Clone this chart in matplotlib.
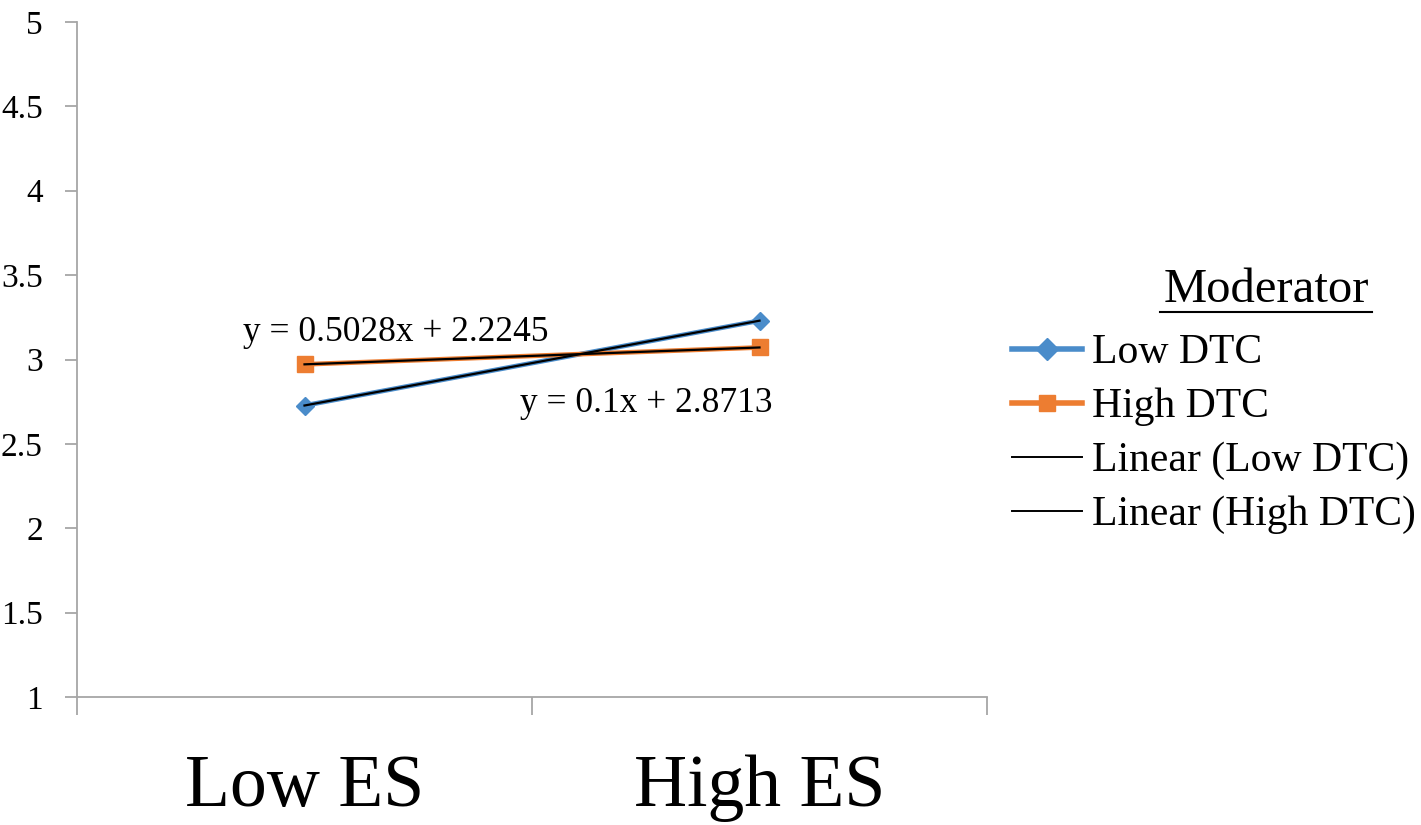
import numpy as np
import matplotlib
matplotlib.use('Agg')
from matplotlib import pyplot as plt
from matplotlib.lines import Line2D

plt.rcParams['font.family'] = ['Liberation Serif', 'DejaVu Serif']

# data
categories = ['Low ES', 'High ES']
series_names = ['Low DTC', 'High DTC']
low_dtc = [2.7273, 3.2301]
high_dtc = [2.9713, 3.0713]
trend_names = ['Linear (Low DTC)', 'Linear (High DTC)']
equations = ['y = 0.5028x + 2.2245', 'y = 0.1x + 2.8713']
y_ticks = [1, 1.5, 2, 2.5, 3, 3.5, 4, 4.5, 5]
y_tick_labels = ['1', '1.5', '2', '2.5', '3', '3.5', '4', '4.5', '5']

blue = '#4a8cca'
orange = '#ed7d31'
grey = '#a6a6a6'

fig = plt.figure(figsize=(14.21, 8.25), dpi=100)
ax = fig.add_axes([77/1421, 1-697/825, 910/1421, 675/825])

x = np.arange(len(categories))
ax.plot(x, low_dtc, color=blue, lw=3.4, marker='D', ms=9, zorder=3)
ax.plot(x, high_dtc, color=orange, lw=3.4, marker='s', ms=12, zorder=3)

# linear trendlines (excel style, x = 1, 2)
xe = x + 1
for vals in [low_dtc, high_dtc]:
    k, b = np.polyfit(xe, vals, 1)
    ax.plot(x, k*xe + b, color='black', lw=1.6, zorder=4)

ax.text(-0.5 + 166/455, 3.16, equations[0], fontsize=25.5, ha='left', va='center')
ax.text(-0.5 + 443/455, 2.74, equations[1], fontsize=25.5, ha='left', va='center')

ax.set_xlim(-0.5, 1.5)
ax.set_ylim(1, 5)
ax.set_yticks(y_ticks)
ax.set_yticklabels(y_tick_labels, fontsize=24)
ax.tick_params(axis='y', length=8.6, width=1.3, color=grey, pad=16)

ax.set_xticks([-0.5, 0.5, 1.5])
ax.set_xticklabels([])
ax.tick_params(axis='x', length=13, width=1.3, color=grey)
for xi, lab in zip(x, categories):
    ax.text(xi, -0.085, lab, fontsize=53, ha='center', va='top',
            transform=ax.get_xaxis_transform())

for s in ['top', 'right']:
    ax.spines[s].set_visible(False)
for s in ['left', 'bottom']:
    ax.spines[s].set_color(grey)
    ax.spines[s].set_linewidth(1.3)

# legend
handles = [
    Line2D([], [], color=blue, lw=4, marker='D', ms=11),
    Line2D([], [], color=orange, lw=4, marker='s', ms=12),
    Line2D([], [], color='black', lw=1.4),
    Line2D([], [], color='black', lw=1.4),
]
fig.legend(handles, series_names + trend_names, loc='upper left',
           bbox_to_anchor=(1012/1421, 1-334/825), frameon=False,
           fontsize=30, handlelength=1.68, handletextpad=0.24,
           labelspacing=0.37, borderpad=0, borderaxespad=0)

fig.text(1266/1421, 1-290/825, 'Moderator', fontsize=35, ha='center', va='center')
fig.add_artist(Line2D([1160/1421, 1372/1421], [1-312/825, 1-312/825],
                      color='black', lw=1.5, transform=fig.transFigure))

fig.savefig('out.png', dpi=100)
